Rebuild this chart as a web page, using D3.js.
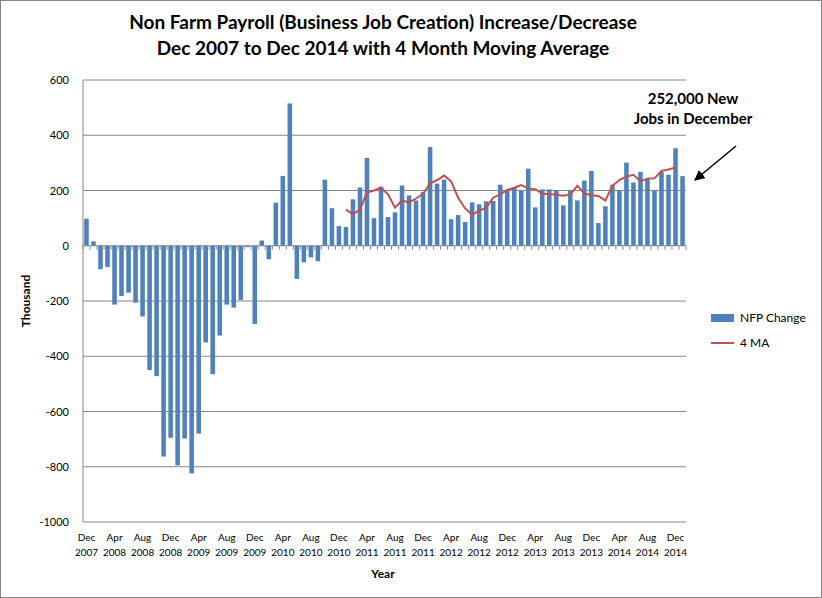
<!DOCTYPE html>
<html><head><meta charset="utf-8">
<script src="https://cdn.jsdelivr.net/npm/d3@7"></script>
<style>body{margin:0;background:#fff;font-family:Lato,"Open Sans",sans-serif;}</style>
</head><body><div id="app"></div>
<script>
// NFP monthly change, Dec 2007 .. Dec 2014 (thousands)
const nfp = [98,16,-85,-77,-213,-182,-170,-206,-256,-450,-472,-763,-695,-795,-698,-824,-680,-350,-465,-325,-213,-224,-196,-5,-283,19,-49,156,253,515,-120,-60,-42,-56,239,136,71,68,168,211,318,100,214,104,121,218,182,164,194,357,225,239,96,111,86,157,150,161,162,221,200,211,200,279,139,204,204,200,146,200,164,236,271,82,143,221,200,301,229,267,243,200,268,257,353,252];
// 4 month moving average, starts at index 37 (Jan 2011)
const maStart = 37;
const ma = [131,114,131,193,200,210,186,138,164,157,171,188,226,238,254,233,174,135,113,126,138,174,186,202,210,220,207,205,188,187,185,181,186,217,190,183,180,164,217,238,251,257,233,243,244,271,276,283];
const months = ["Dec","Jan","Feb","Mar","Apr","May","Jun","Jul","Aug","Sep","Oct","Nov"];
const yTicks = [600,400,200,0,-200,-400,-600,-800,-1000];

const W = 822, H = 598;
const m = {l:83, r:686, t:80, b:522};
const svg = d3.select("#app").append("svg").attr("width", W).attr("height", H);
svg.append("rect").attr("x",0.5).attr("y",0.5).attr("width",W-1).attr("height",H-1)
  .attr("fill","#fff").attr("stroke","#888");

const idx = d3.range(nfp.length);
const x = d3.scaleBand().domain(idx).range([m.l, m.r]).paddingInner(0.35).paddingOuter(0.17);
const y = d3.scaleLinear().domain([-1000, 600]).range([m.b, m.t]);

// gridlines
svg.append("g").selectAll("line").data(yTicks).join("line")
  .attr("x1", m.l).attr("x2", m.r).attr("y1", d => y(d)).attr("y2", d => y(d))
  .attr("stroke", "#868686");
svg.append("line").attr("x1", m.l).attr("x2", m.l).attr("y1", m.t).attr("y2", m.b).attr("stroke", "#868686");
svg.append("g").selectAll("text").data(yTicks).join("text")
  .attr("x", m.l - 14).attr("y", d => y(d) + 4).attr("text-anchor", "end")
  .attr("font-size", 11).text(d => d);

// bars
svg.append("g").selectAll("rect").data(nfp).join("rect")
  .attr("x", (d, i) => x(i)).attr("width", x.bandwidth())
  .attr("y", d => y(Math.max(0, d))).attr("height", d => Math.abs(y(d) - y(0)))
  .attr("fill", "#4F81BD");

// category ticks on zero line
const step = x.step();
svg.append("g").selectAll("line").data(d3.range(nfp.length + 1)).join("line")
  .attr("x1", i => m.l + i * (m.r - m.l) / nfp.length).attr("x2", i => m.l + i * (m.r - m.l) / nfp.length)
  .attr("y1", y(0)).attr("y2", y(0) + 4).attr("stroke", "#868686");

// moving average
const line = d3.line().x(d => x(d[0]) + x.bandwidth() / 2).y(d => y(d[1]));
svg.append("path").datum(ma.map((v, i) => [maStart + i, v]))
  .attr("d", line).attr("fill", "none").attr("stroke", "#C0504D").attr("stroke-width", 2);

// x labels every 4 months
const lab = svg.append("g").selectAll("text").data(idx.filter(i => i % 4 === 0)).join("text")
  .attr("text-anchor", "middle").attr("font-size", 10)
  .attr("transform", i => `translate(${x(i) + x.bandwidth() / 2},0)`);
lab.append("tspan").attr("x", 0).attr("y", 541).text(i => months[i % 12]);
lab.append("tspan").attr("x", 0).attr("y", 556).text(i => 2007 + Math.floor((i + 11) / 12));

svg.append("text").attr("x", 383).attr("y", 578).attr("text-anchor", "middle")
  .attr("font-size", 12).attr("font-weight", "bold").text("Year");
svg.append("text").attr("transform", "translate(30,301) rotate(-90)").attr("text-anchor", "middle")
  .attr("font-size", 12).attr("font-weight", "bold").text("Thousand");

// title
svg.append("g").selectAll("text").data(["Non Farm Payroll (Business Job Creation) Increase/Decrease","Dec 2007 to Dec 2014 with 4 Month Moving Average"])
  .join("text").attr("x", 383).attr("y", (d, i) => 29 + i * 26).attr("text-anchor", "middle")
  .attr("font-size", 19).attr("font-weight", "bold").text(d => d);

// legend
svg.append("rect").attr("x", 711).attr("y", 314).attr("width", 23).attr("height", 8).attr("fill", "#4F81BD");
svg.append("text").attr("x", 740).attr("y", 322).attr("font-size", 12).text("NFP Change");
svg.append("line").attr("x1", 711).attr("x2", 734).attr("y1", 343).attr("y2", 343).attr("stroke", "#C0504D").attr("stroke-width", 2);
svg.append("text").attr("x", 740).attr("y", 347).attr("font-size", 12).text("4 MA");

// annotation
svg.append("g").selectAll("text").data(["252,000 New","Jobs in December"]).join("text")
  .attr("x", 693).attr("y", (d, i) => 104 + i * 20).attr("text-anchor", "middle")
  .attr("font-size", 15).attr("font-weight", "bold").text(d => d);
svg.append("defs").append("marker").attr("id", "ah").attr("viewBox", "0 0 10 10").attr("refX", 9).attr("refY", 5)
  .attr("markerWidth", 7).attr("markerHeight", 7).attr("orient", "auto")
  .append("path").attr("d", "M0,0L10,5L0,10z").attr("fill", "#000");
svg.append("line").attr("x1", 736).attr("y1", 146).attr("x2", 695).attr("y2", 180)
  .attr("stroke", "#000").attr("stroke-width", 1.5).attr("marker-end", "url(#ah)");
</script></body></html>
